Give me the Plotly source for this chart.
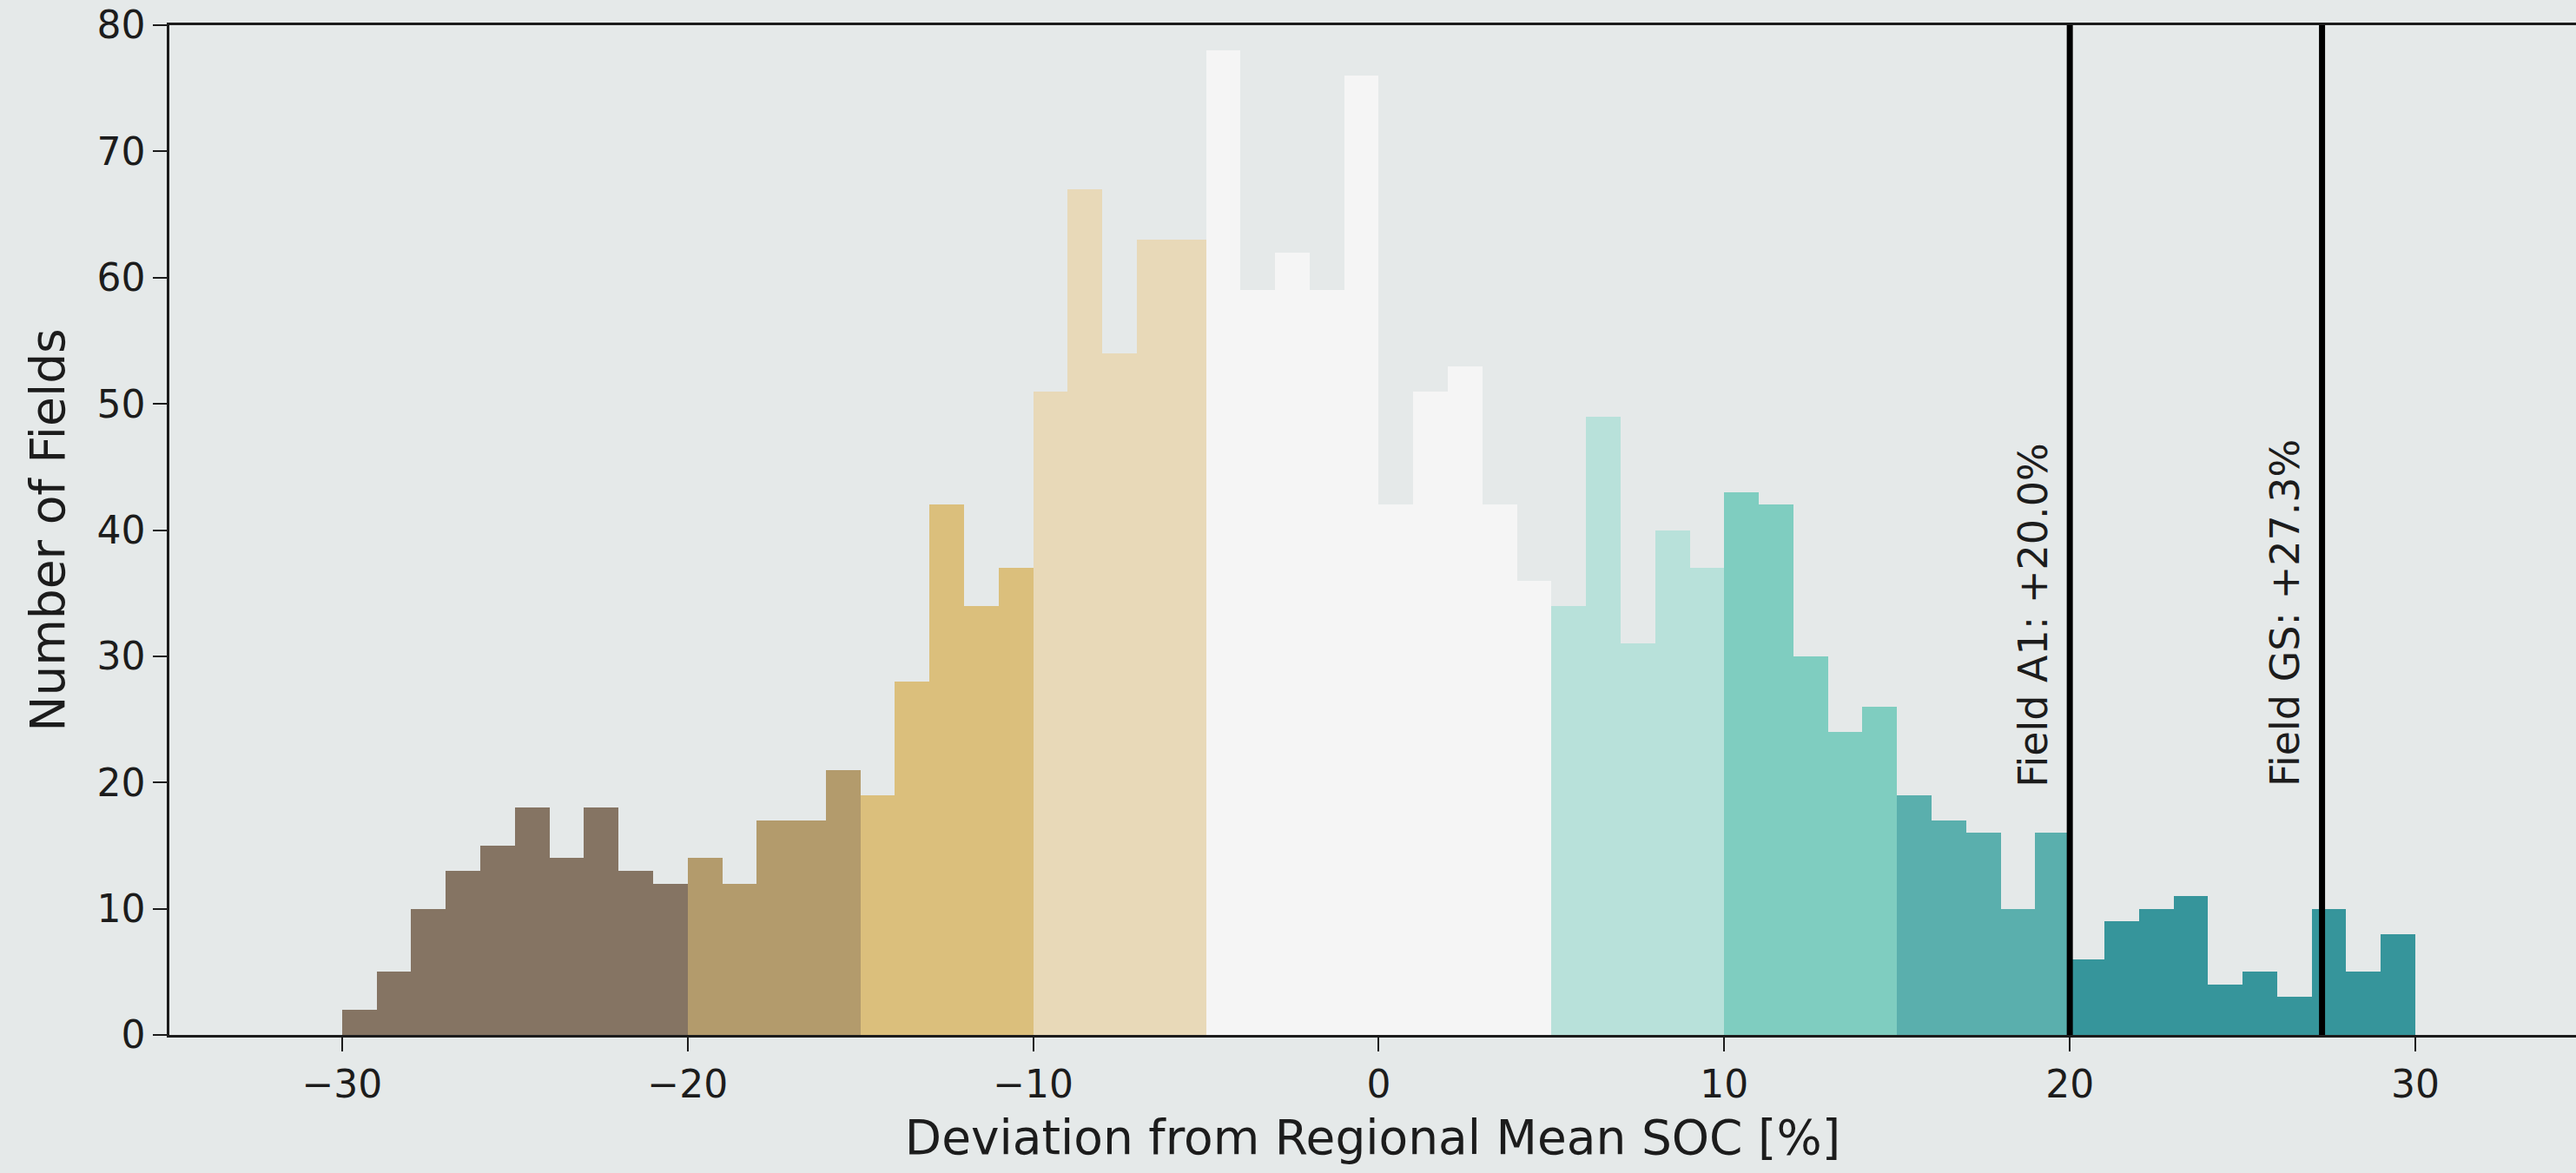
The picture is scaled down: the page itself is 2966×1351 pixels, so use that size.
import plotly.graph_objects as go

# ---- data ----
bin_left_edges = list(range(-30, 30))
counts = [
    2, 5, 10, 13, 15, 18, 14, 18, 13, 12,
    14, 12, 17, 17, 21, 19, 28, 42, 34, 37,
    51, 67, 54, 63, 63, 78, 59, 62, 59, 76,
    42, 51, 53, 42, 36, 34, 49, 31, 40, 37,
    43, 42, 30, 24, 26, 19, 17, 16, 10, 16,
    6, 9, 10, 11, 4, 5, 3, 10, 5, 8,
]
# colour classes: (lower bound, upper bound, colour)
class_bounds = [-30, -20, -15, -10, -5, 5, 10, 15, 20, 30]
class_colors = ["#857463", "#b39b6c", "#dbbf7c", "#e8d9b8", "#f5f5f5",
                "#b8e1da", "#7fcdc0", "#5aafad", "#36959b"]
marker_x = [20.0, 27.3]
marker_labels = ["Field A1: +20.0%", "Field GS: +27.3%"]
x_tickvals = [-30, -20, -10, 0, 10, 20, 30]
x_ticktext = ["\u221230", "\u221220", "\u221210", "0", "10", "20", "30"]
y_tickvals = [0, 10, 20, 30, 40, 50, 60, 70, 80]

# ---- derived ----
centers = [e + 0.5 for e in bin_left_edges]
def color_for(left):
    for i in range(len(class_colors)):
        if class_bounds[i] <= left < class_bounds[i + 1]:
            return class_colors[i]
    return class_colors[-1]
bar_colors = [color_for(e) for e in bin_left_edges]

BG = "#e5e9e9"
INK = "#1c1c1c"
FONT = "DejaVu Sans"

fig = go.Figure()
fig.add_trace(go.Bar(x=centers, y=counts, width=1.0,
                     marker=dict(color=bar_colors, line=dict(width=0)),
                     showlegend=False))

for xv, lab in zip(marker_x, marker_labels):
    fig.add_shape(type="line", xref="x", yref="y domain", x0=xv, x1=xv, y0=0, y1=1,
                  line=dict(color="#000000", width=7), layer="above")
    fig.add_annotation(x=xv, y=19.5, xref="x", yref="y", text=lab, textangle=-90,
                       xanchor="right", yanchor="bottom", xshift=-14, showarrow=False,
                       font=dict(family=FONT, size=46, color=INK))

fig.update_layout(
    width=2966, height=1351,
    margin=dict(l=195, r=0, t=29, b=159),
    paper_bgcolor=BG, plot_bgcolor=BG,
    bargap=0,
    font=dict(family=FONT, color=INK),
    xaxis=dict(range=[-35, 34.65], tickvals=x_tickvals, ticktext=x_ticktext,
               showgrid=False, zeroline=False, showline=True, linecolor=INK,
               linewidth=2.5, mirror=True, ticks="outside", ticklen=16,
               tickwidth=2, tickcolor=INK, tickfont=dict(size=44, family=FONT, color=INK),
               title=dict(text="Deviation from Regional Mean SOC [%]",
                          font=dict(size=55, family=FONT, color=INK), standoff=18)),
    yaxis=dict(range=[0, 80], tickvals=y_tickvals,
               showgrid=False, zeroline=False, showline=True, linecolor=INK,
               linewidth=2.5, ticks="outside", ticklen=16, tickwidth=2,
               tickcolor=INK, tickfont=dict(size=44, family=FONT, color=INK),
               title=dict(text="Number of Fields",
                          font=dict(size=55, family=FONT, color=INK), standoff=20)),
)

fig.write_html(
    "out.html",
    config={"displayModeBar": False},
    post_script=("document.body.style.margin='0';"
                 "document.body.style.overflow='hidden';"
                 "document.body.style.background='" + BG + "';"),
)
